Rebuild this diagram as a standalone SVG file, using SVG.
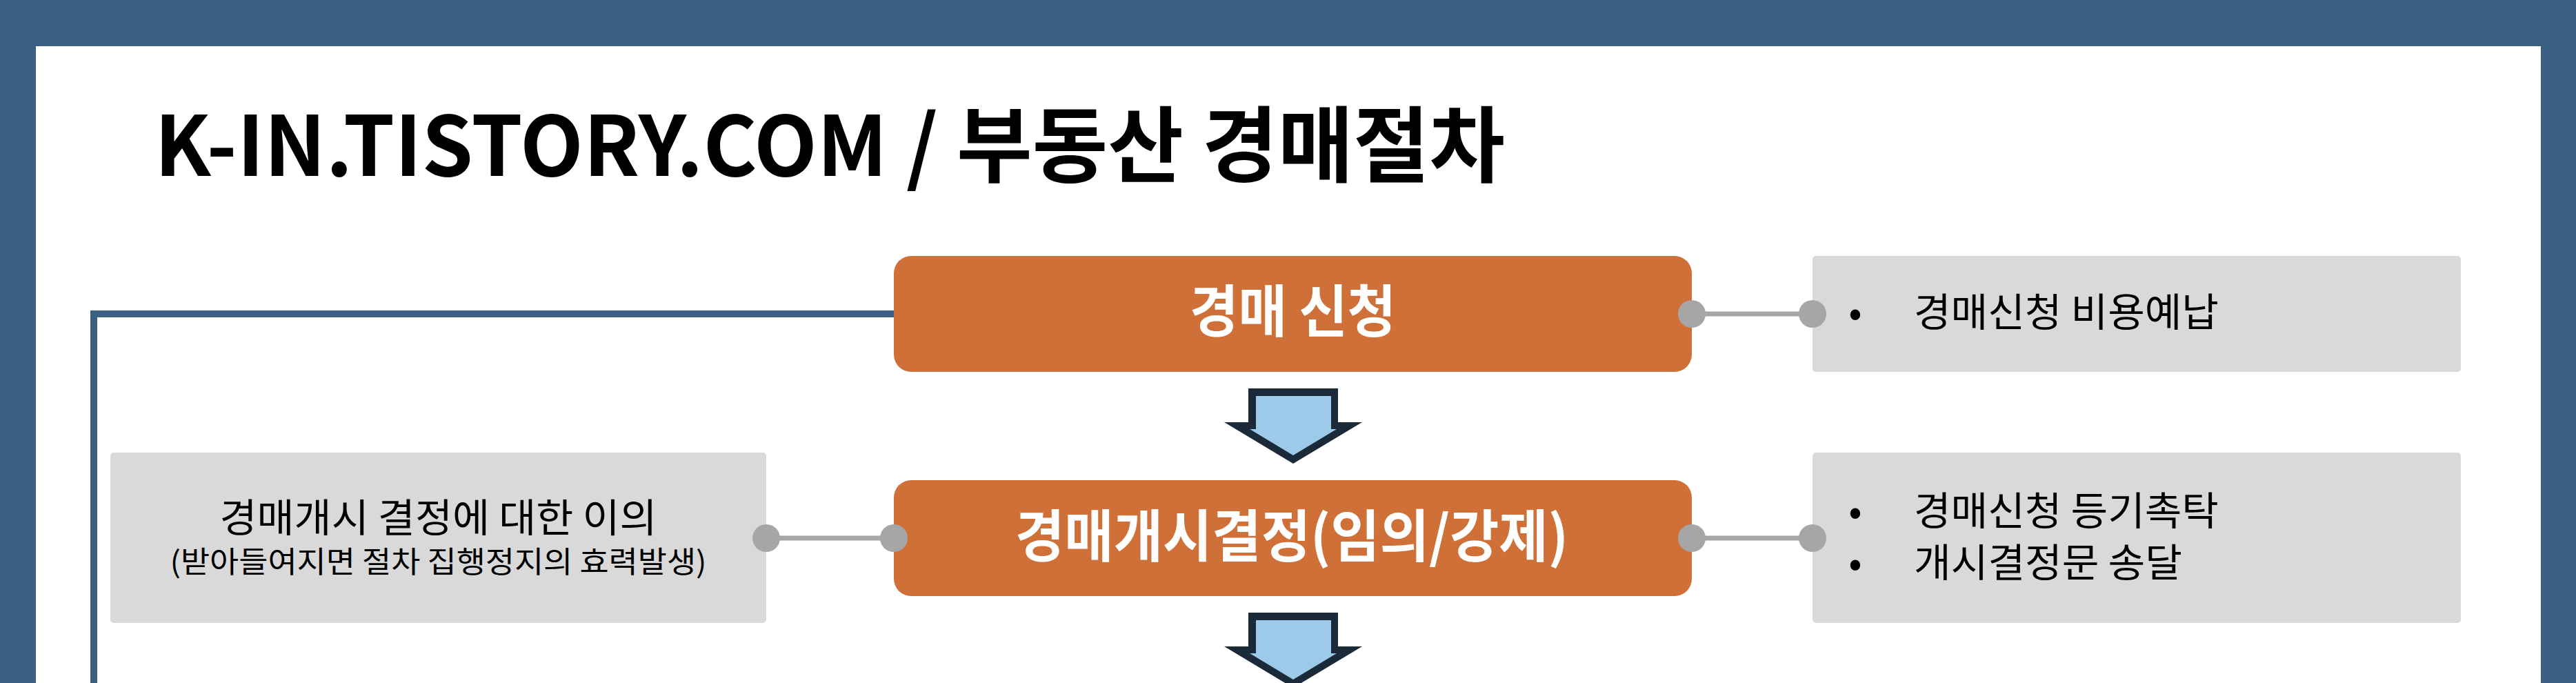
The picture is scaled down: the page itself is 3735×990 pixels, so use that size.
<svg xmlns="http://www.w3.org/2000/svg" width="3735" height="990" viewBox="0 0 3735 990">
<defs>
<style>
.frame{fill:#3B6182}
.panel{fill:#FFFFFF}
.step{fill:#CE7038}
.note{fill:#D9D9D9}
.arrowOut{fill:#1B2A38}
.arrowIn{fill:#9DCAE8}
.dot{fill:#A6A6A6}
.glink{stroke:#A6A6A6;stroke-width:7;fill:none}
.blink{stroke:#3B6182;stroke-width:10;fill:none;stroke-linejoin:miter}
.title{font-family:"Noto Sans CJK KR","Noto Sans",sans-serif;font-weight:700;font-size:120px;fill:#000}
.label{font-family:"Noto Sans CJK KR",sans-serif;font-weight:700;font-size:82px;fill:#FFFFFF}
.txt{font-family:"Noto Sans CJK KR",sans-serif;font-weight:400;font-size:57px;fill:#000}
.small{font-family:"Noto Sans CJK KR",sans-serif;font-weight:400;font-size:43px;fill:#000}
</style>
<g id="downArrow">
<polygon class="arrowOut" points="1810,563 1940,563 1940,612 1975,612 1875,672 1775,612 1810,612"/>
<polygon class="arrowIn" points="1821,574 1930,574 1930,622 1938,622 1875,660 1812,622 1821,622"/>
</g>
</defs>
<rect class="frame" x="0" y="0" width="3735" height="990"/>
<rect class="panel" x="52" y="67" width="3632" height="923"/>
<text id="title" class="title" x="224" y="255" textLength="1958" lengthAdjust="spacingAndGlyphs">K-IN.TISTORY.COM / 부동산 경매절차</text>
<g id="step1">
<rect class="step" x="1296" y="371" width="1157" height="168" rx="25"/>
<text class="label" x="1874.5" y="481" text-anchor="middle" textLength="299" lengthAdjust="spacingAndGlyphs">경매 신청</text>
</g>
<g id="note1">
<rect class="note" x="2628" y="371" width="940" height="168" rx="5"/>
<text class="txt" x="2690" y="473" text-anchor="middle">•</text>
<text class="txt" x="2775" y="473" textLength="442" lengthAdjust="spacingAndGlyphs">경매신청 비용예납</text>
</g>
<g id="step2">
<rect class="step" x="1296" y="696" width="1157" height="168" rx="25"/>
<text class="label" x="1873" y="807" text-anchor="middle" textLength="802" lengthAdjust="spacingAndGlyphs">경매개시결정(임의/강제)</text>
</g>
<g id="objection">
<rect class="note" x="160" y="656" width="951" height="247" rx="5"/>
<text class="txt" x="635.5" y="771" text-anchor="middle" textLength="634" lengthAdjust="spacingAndGlyphs">경매개시 결정에 대한 이의</text>
<text class="small" x="635.5" y="830" text-anchor="middle" textLength="778" lengthAdjust="spacingAndGlyphs">(받아들여지면 절차 집행정지의 효력발생)</text>
</g>
<g id="note2">
<rect class="note" x="2628" y="656" width="940" height="247" rx="5"/>
<text class="txt" x="2690" y="761" text-anchor="middle">•</text>
<text class="txt" x="2775" y="761" textLength="442" lengthAdjust="spacingAndGlyphs">경매신청 등기촉탁</text>
<text class="txt" x="2690" y="836" text-anchor="middle">•</text>
<text class="txt" x="2775" y="836" textLength="389" lengthAdjust="spacingAndGlyphs">개시결정문 송달</text>
</g>
<g id="connectors">
<polyline class="blink" points="1296,455 136,455 136,995"/>
<line class="glink" x1="2453" y1="455" x2="2628" y2="455"/>
<line class="glink" x1="1111" y1="780" x2="1296" y2="780"/>
<line class="glink" x1="2453" y1="780" x2="2628" y2="780"/>
<circle class="dot" cx="2453" cy="455" r="20"/>
<circle class="dot" cx="2628" cy="455" r="20"/>
<circle class="dot" cx="1111" cy="780" r="20"/>
<circle class="dot" cx="1296" cy="780" r="20"/>
<circle class="dot" cx="2453" cy="780" r="20"/>
<circle class="dot" cx="2628" cy="780" r="20"/>
<use href="#downArrow"/>
<use href="#downArrow" transform="translate(0,325)"/>
</g>
</svg>
